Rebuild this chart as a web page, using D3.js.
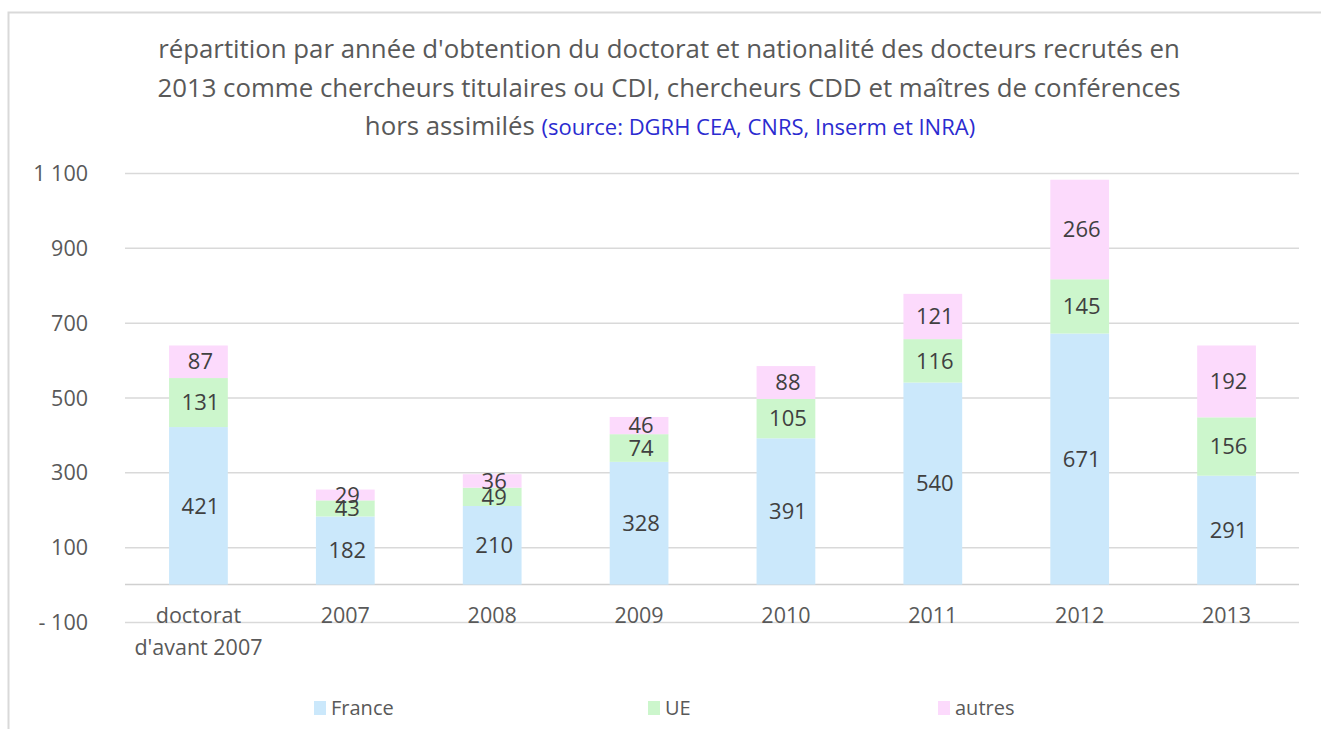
<!DOCTYPE html>
<html><head><meta charset="utf-8">
<script src="https://cdn.jsdelivr.net/npm/d3@7"></script>
<style>body{margin:0;background:#fff}svg{display:block}</style>
</head><body>
<svg id="c" width="1321" height="729"></svg>
<script>
const categories = [["doctorat","d'avant 2007"],["2007"],["2008"],["2009"],["2010"],["2011"],["2012"],["2013"]];
const seriesNames = ["France","UE","autres"];
const france = [421,182,210,328,391,540,671,291];
const ue = [131,43,49,74,105,116,145,156];
const autres = [87,29,36,46,88,121,266,192];
const yTicks = [-100,100,300,500,700,900,1100];
const colors = ["#cbe8fb","#ccf6cc","#fcdafc"];

const svg = d3.select("#c");
const font = "'Open Sans', Lato, sans-serif";
svg.append("rect").attr("x",8.5).attr("y",12.5).attr("width",1340).attr("height",760)
  .attr("fill","#fff").attr("stroke","#d9d9d9").attr("stroke-width",2);

const x = d3.scaleBand().domain(d3.range(categories.length)).range([125,1300]).paddingInner(0.6).paddingOuter(0.3);
const y = d3.scaleLinear().domain([-100,1100]).range([622,173]);

const gAxis = svg.append("g").attr("transform","translate(125,0)")
  .call(d3.axisLeft(y).tickValues(yTicks).tickSize(0).tickFormat(d => d<0 ? "- " + Math.abs(d) : d3.format(",")(d).replace(","," ")).tickPadding(37));
gAxis.select(".domain").remove();
gAxis.selectAll(".tick line").attr("stroke","#d9d9d9").attr("stroke-width",1.5).attr("x1",0).attr("x2",1174);
gAxis.selectAll(".tick text").attr("font-family",font).attr("font-size",21.5).attr("fill","#595959").attr("dy","0.35em");

svg.append("line").attr("x1",125).attr("x2",1299).attr("y1",y(0)).attr("y2",y(0))
  .attr("stroke","#d0d0d0").attr("stroke-width",1.5);

const data = categories.map((c,i)=>({i, France:france[i], UE:ue[i], autres:autres[i]}));
const stack = d3.stack().keys(seriesNames)(data);

const layers = svg.append("g").selectAll("g").data(stack).join("g").attr("fill",(d,k)=>colors[k]);
layers.selectAll("rect").data(d=>d).join("rect")
  .attr("x",d=>x(d.data.i)).attr("width",x.bandwidth())
  .attr("y",d=>y(d[1])).attr("height",d=>y(d[0])-y(d[1]));

const lab = svg.append("g");
stack.forEach(layer=>{
  layer.forEach(d=>{
    lab.append("text").attr("x",x(d.data.i)+x.bandwidth()/2+2).attr("y",y((d[0]+d[1])/2))
      .attr("dy","0.35em").attr("text-anchor","middle").attr("font-family",font).attr("font-size",22)
      .attr("fill","#404040").text(d[1]-d[0]);
  });
});

const cl = svg.append("g");
categories.forEach((c,i)=>{
  const t = cl.append("text").attr("text-anchor","middle")
    .attr("font-family",font).attr("font-size",21.5).attr("fill","#595959");
  c.forEach((line,j)=>t.append("tspan").attr("x",x(i)+x.bandwidth()/2).attr("y",623+j*32).text(line));
});

const tt = svg.append("g").attr("font-family",font).attr("fill","#595959").attr("text-anchor","middle");
tt.append("text").attr("x",669).attr("y",58).attr("font-size",25.8).text("répartition par année d'obtention du doctorat et nationalité des docteurs recrutés en");
tt.append("text").attr("x",669).attr("y",97).attr("font-size",25.8).text("2013 comme chercheurs titulaires ou CDI, chercheurs CDD et maîtres de conférences");
const t3 = tt.append("text").attr("x",670).attr("y",135).attr("font-size",25.8);
t3.append("tspan").text("hors assimilés ");
t3.append("tspan").attr("fill","#2b2bd0").attr("font-size",22).text("(source: DGRH CEA, CNRS, Inserm et INRA)");

const legX = [314,648,938];
const lg = svg.append("g");
seriesNames.forEach((s,k)=>{
  lg.append("rect").attr("x",legX[k]).attr("y",701).attr("width",12).attr("height",14).attr("fill",colors[k]);
  lg.append("text").attr("x",legX[k]+17).attr("y",708).attr("dy","0.35em").attr("font-family",font)
    .attr("font-size",20).attr("fill","#595959").text(s);
});
</script>
</body></html>
